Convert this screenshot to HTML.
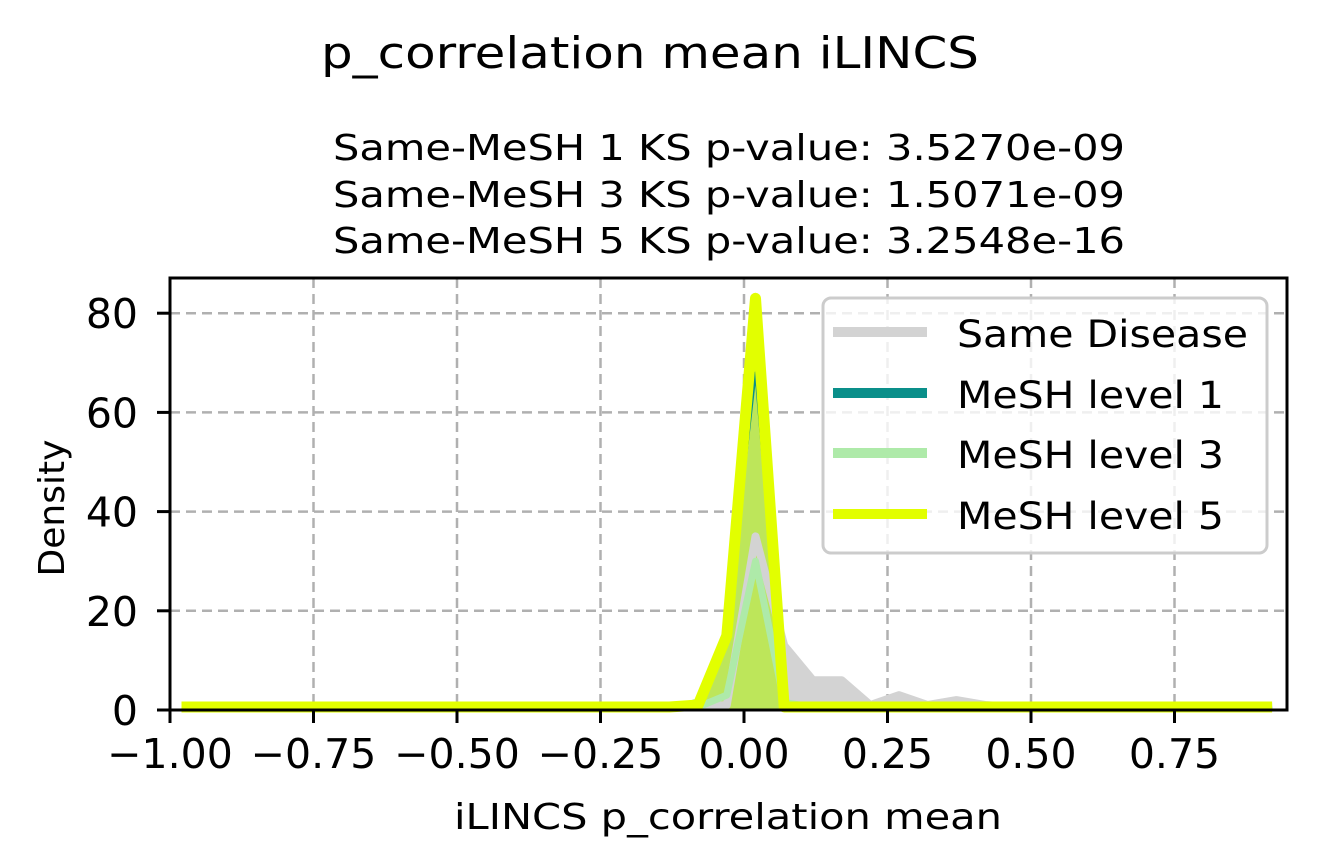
<!DOCTYPE html>
<html><head><meta charset="utf-8"><style>
html,body{margin:0;padding:0;background:#fff;}
svg{display:block;font-family:"DejaVu Sans","Liberation Sans",sans-serif;}
</style></head><body>
<svg id="chart" width="1317" height="866" viewBox="0 0 1317 866" xmlns="http://www.w3.org/2000/svg">
<rect width="1317" height="866" fill="#fff"/>
<text x="650" y="68" font-size="44" text-anchor="middle" textLength="658" lengthAdjust="spacingAndGlyphs">p_correlation mean iLINCS</text>
<text x="729" y="160" font-size="36" text-anchor="middle" textLength="792" lengthAdjust="spacingAndGlyphs">Same-MeSH 1 KS p-value: 3.5270e-09</text>
<text x="729" y="207" font-size="36" text-anchor="middle" textLength="792" lengthAdjust="spacingAndGlyphs">Same-MeSH 3 KS p-value: 1.5071e-09</text>
<text x="729" y="253" font-size="36" text-anchor="middle" textLength="792" lengthAdjust="spacingAndGlyphs">Same-MeSH 5 KS p-value: 3.2548e-16</text>
<g id="grid"></g>
<g id="plot"></g>
<g id="axes"></g>
<text x="728" y="829" font-size="36" text-anchor="middle" textLength="548" lengthAdjust="spacingAndGlyphs">iLINCS p_correlation mean</text>
<text transform="translate(64,508) rotate(-90)" font-size="36" text-anchor="middle">Density</text>
<g>
<rect x="823" y="298" width="444" height="255" rx="8" fill="#fff" fill-opacity="0.8" stroke="#cccccc" stroke-width="3"/>
<line x1="833" y1="332" x2="927" y2="332" stroke="#d3d3d3" stroke-width="10"/>
<text x="957" y="347" font-size="37" textLength="291" lengthAdjust="spacingAndGlyphs">Same Disease</text>
<line x1="833" y1="393" x2="927" y2="393" stroke="#0a8f8a" stroke-width="10"/>
<text x="957" y="408" font-size="37" textLength="267" lengthAdjust="spacingAndGlyphs">MeSH level 1</text>
<line x1="833" y1="453" x2="927" y2="453" stroke="#aeeaa9" stroke-width="10"/>
<text x="957" y="468" font-size="37" textLength="267" lengthAdjust="spacingAndGlyphs">MeSH level 3</text>
<line x1="833" y1="514" x2="927" y2="514" stroke="#e2ff00" stroke-width="10"/>
<text x="957" y="529" font-size="37" textLength="267" lengthAdjust="spacingAndGlyphs">MeSH level 5</text>
</g>
</svg>
<script>
const xStart = -0.98;
const xStep = 0.05;
const sameDisease = [0.6,0.6,0.6,0.6,0.6,0.6,0.6,0.6,0.6,0.6,0.6,0.6,0.6,0.6,0.6,0.6,0.6,0.6,0.6,1,35,13,6,6,1,3,1,2,1,0.6,0.6,0.6,0.6,0.6,0.6,0.6,0.6,0.6,0.6];
const mesh1 = [0.6,0.6,0.6,0.6,0.6,0.6,0.6,0.6,0.6,0.6,0.6,0.6,0.6,0.6,0.6,0.6,0.6,0.9,2,17,68,0.6,0.6,0.6,0.6,0.6,0.6,0.6,0.6,0.6,0.6,0.6,0.6,0.6,0.6,0.6,0.6,0.6,0.6];
const mesh3 = [0.6,0.6,0.6,0.6,0.6,0.6,0.6,0.6,0.6,0.6,0.6,0.6,0.6,0.6,0.6,0.6,0.6,0.6,0.6,3,30,1.5,0.6,0.6,0.6,0.6,0.6,0.6,0.6,0.6,0.6,0.6,0.6,0.6,0.6,0.6,0.6,0.6,0.6];
const mesh5 = [0.6,0.6,0.6,0.6,0.6,0.6,0.6,0.6,0.6,0.6,0.6,0.6,0.6,0.6,0.6,0.6,0.6,0.6,1,15,83,0.6,0.6,0.6,0.6,0.6,0.6,0.6,0.6,0.6,0.6,0.6,0.6,0.6,0.6,0.6,0.6,0.6,0.6];
const xTicks = [-1,-0.75,-0.5,-0.25,0,0.25,0.5,0.75];
const xTickLabels = ["\u22121.00","\u22120.75","\u22120.50","\u22120.25","0.00","0.25","0.50","0.75"];
const yTicks = [0,20,40,60,80];

const NS = "http://www.w3.org/2000/svg";
const L = 170, R = 1287, T = 278, B = 710;
function sx(v){ return 744 + v*574; }
function sy(v){ return 710 - v*4.96; }
function mk(tag, attrs, parent){ const e = document.createElementNS(NS, tag); for (const k in attrs) e.setAttribute(k, attrs[k]); parent.appendChild(e); return e; }
const grid = document.getElementById('grid'), plot = document.getElementById('plot'), axes = document.getElementById('axes');

xTicks.forEach((v,i)=>{
  const g = mk('line',{x1:sx(v),x2:sx(v),y1:T,y2:B,stroke:'#b0b0b0','stroke-width':2.5,'stroke-dasharray':'10 6'},grid);
  
  
  const t = mk('line',{x1:sx(v),x2:sx(v),y1:B,y2:B+13,stroke:'#000','stroke-width':3},axes);
  
  
  const lb = mk('text',{x:sx(v),y:768,'font-size':41,'text-anchor':'middle'},axes);
  lb.textContent = xTickLabels[i];
  
  
});
yTicks.forEach(v=>{
  if (v>0){
    const g = mk('line',{x1:L,x2:R,y1:sy(v),y2:sy(v),stroke:'#b0b0b0','stroke-width':2.5,'stroke-dasharray':'10 6'},grid);
    
    
  }
  const t = mk('line',{x1:L-13,x2:L,y1:sy(v),y2:sy(v),stroke:'#000','stroke-width':3},axes);
  
  
  const lb = mk('text',{x:L-32,y:sy(v)+15,'font-size':41,'text-anchor':'end'},axes);
  lb.textContent = String(v);
  
  
});

function pts(arr){ return arr.map((v,i)=>sx(xStart+i*xStep).toFixed(1)+','+sy(v).toFixed(1)); }
function area(arr, fill, name, op){
  const p = pts(arr);
  const x0 = sx(xStart), x1 = sx(xStart+(arr.length-1)*xStep);
  const e = mk('polygon',{points: x0+','+B+' '+p.join(' ')+' '+x1+','+B, fill: fill, 'fill-opacity': op},plot);
  
  
}
function line(arr, color, w, name){
  const e = mk('polyline',{points: pts(arr).join(' '), fill:'none', stroke: color, 'stroke-width': w, 'stroke-linejoin':'round'},plot);
  
  
}
area(mesh1,'#0a8f8a','mesh1-fill',1);
area(sameDisease,'#d3d3d3','same-disease-fill',1);
area(mesh3,'#aeeaa9','mesh3-fill',1);
area(mesh5,'#bde65a','mesh5-fill',1);
line(sameDisease,'#d3d3d3',8,'same-disease-line');
line(mesh1,'#0a8f8a',2.5,'mesh1-line');
line(mesh3,'#aeeaa9',7,'mesh3-line');
line(mesh5,'#e2ff00',11,'mesh5-line');

const frame = mk('rect',{x:L,y:T,width:R-L,height:B-T,fill:'none',stroke:'#000','stroke-width':3},axes);


</script>
</body></html>
